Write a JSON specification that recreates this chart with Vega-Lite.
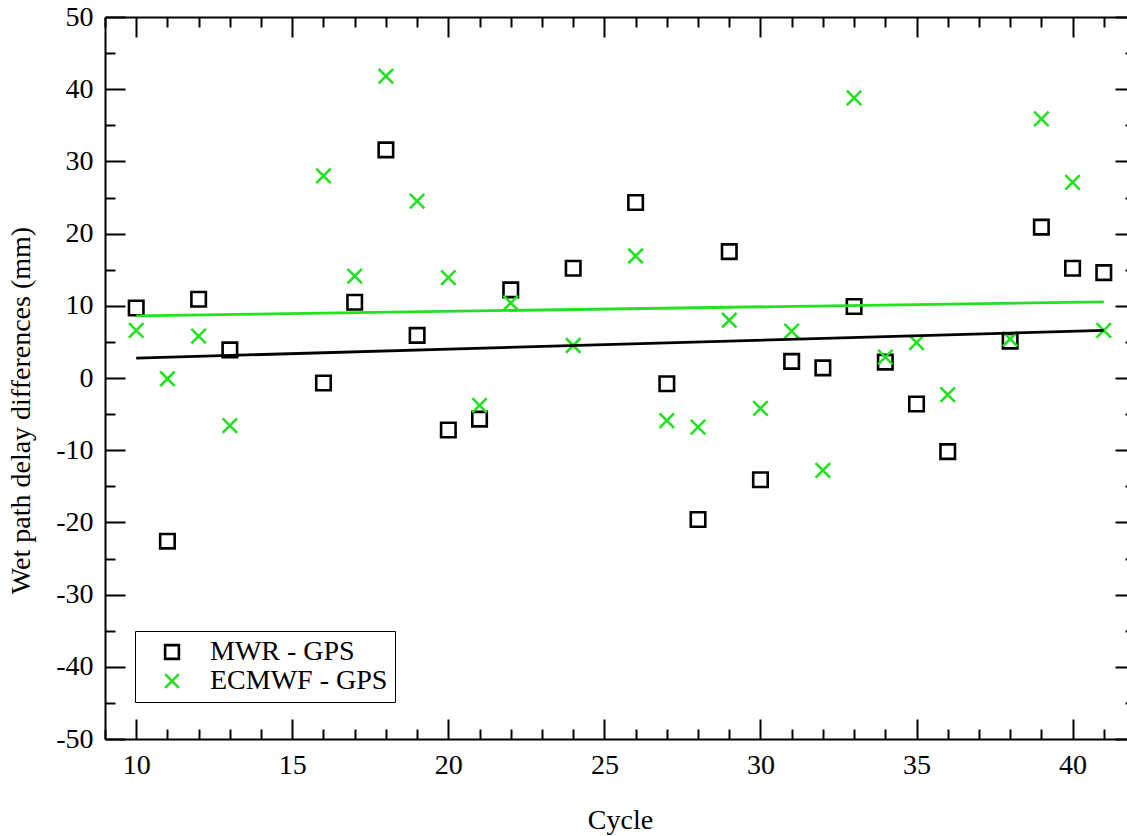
{
  "$schema": "https://vega.github.io/schema/vega-lite/v6.json",
  "autosize": {"type": "none"},
  "padding": {"left": 105, "top": 17, "right": -8, "bottom": 97},
  "width": 1030,
  "height": 722,
  "background": "white",
  "datasets": {
    "pts": [
      {"series": "MWR - GPS", "cycle": 10, "value": 9.7},
      {"series": "MWR - GPS", "cycle": 11, "value": -22.6},
      {"series": "MWR - GPS", "cycle": 12, "value": 10.9},
      {"series": "MWR - GPS", "cycle": 13, "value": 3.9},
      {"series": "MWR - GPS", "cycle": 16, "value": -0.7},
      {"series": "MWR - GPS", "cycle": 17, "value": 10.5},
      {"series": "MWR - GPS", "cycle": 18, "value": 31.6},
      {"series": "MWR - GPS", "cycle": 19, "value": 5.9},
      {"series": "MWR - GPS", "cycle": 20, "value": -7.2},
      {"series": "MWR - GPS", "cycle": 21, "value": -5.7},
      {"series": "MWR - GPS", "cycle": 22, "value": 12.2},
      {"series": "MWR - GPS", "cycle": 24, "value": 15.2},
      {"series": "MWR - GPS", "cycle": 26, "value": 24.3},
      {"series": "MWR - GPS", "cycle": 27, "value": -0.8},
      {"series": "MWR - GPS", "cycle": 28, "value": -19.6},
      {"series": "MWR - GPS", "cycle": 29, "value": 17.5},
      {"series": "MWR - GPS", "cycle": 30, "value": -14.1},
      {"series": "MWR - GPS", "cycle": 31, "value": 2.3},
      {"series": "MWR - GPS", "cycle": 32, "value": 1.4},
      {"series": "MWR - GPS", "cycle": 33, "value": 9.9},
      {"series": "MWR - GPS", "cycle": 34, "value": 2.2},
      {"series": "MWR - GPS", "cycle": 35, "value": -3.6},
      {"series": "MWR - GPS", "cycle": 36, "value": -10.2},
      {"series": "MWR - GPS", "cycle": 38, "value": 5.1},
      {"series": "MWR - GPS", "cycle": 39, "value": 20.9},
      {"series": "MWR - GPS", "cycle": 40, "value": 15.2},
      {"series": "MWR - GPS", "cycle": 41, "value": 14.6},
      {"series": "ECMWF - GPS", "cycle": 10, "value": 6.6},
      {"series": "ECMWF - GPS", "cycle": 11, "value": -0.1},
      {"series": "ECMWF - GPS", "cycle": 12, "value": 5.8},
      {"series": "ECMWF - GPS", "cycle": 13, "value": -6.6},
      {"series": "ECMWF - GPS", "cycle": 16, "value": 28.0},
      {"series": "ECMWF - GPS", "cycle": 17, "value": 14.1},
      {"series": "ECMWF - GPS", "cycle": 18, "value": 41.8},
      {"series": "ECMWF - GPS", "cycle": 19, "value": 24.5},
      {"series": "ECMWF - GPS", "cycle": 20, "value": 13.9},
      {"series": "ECMWF - GPS", "cycle": 21, "value": -3.8},
      {"series": "ECMWF - GPS", "cycle": 22, "value": 10.4},
      {"series": "ECMWF - GPS", "cycle": 24, "value": 4.5},
      {"series": "ECMWF - GPS", "cycle": 26, "value": 16.9},
      {"series": "ECMWF - GPS", "cycle": 27, "value": -5.9},
      {"series": "ECMWF - GPS", "cycle": 28, "value": -6.8},
      {"series": "ECMWF - GPS", "cycle": 29, "value": 8.0},
      {"series": "ECMWF - GPS", "cycle": 30, "value": -4.2},
      {"series": "ECMWF - GPS", "cycle": 31, "value": 6.5},
      {"series": "ECMWF - GPS", "cycle": 32, "value": -12.8},
      {"series": "ECMWF - GPS", "cycle": 33, "value": 38.8},
      {"series": "ECMWF - GPS", "cycle": 34, "value": 2.9},
      {"series": "ECMWF - GPS", "cycle": 35, "value": 4.9},
      {"series": "ECMWF - GPS", "cycle": 36, "value": -2.3},
      {"series": "ECMWF - GPS", "cycle": 38, "value": 5.4},
      {"series": "ECMWF - GPS", "cycle": 39, "value": 35.9},
      {"series": "ECMWF - GPS", "cycle": 40, "value": 27.1},
      {"series": "ECMWF - GPS", "cycle": 41, "value": 6.6}
    ],
    "fits": [
      {"series": "MWR - GPS", "cycle": 10, "value": 2.75},
      {"series": "MWR - GPS", "cycle": 41, "value": 6.6},
      {"series": "ECMWF - GPS", "cycle": 10, "value": 8.6},
      {"series": "ECMWF - GPS", "cycle": 41, "value": 10.55}
    ]
  },
  "layer": [
    {
      "data": {"name": "pts"},
      "mark": {"type": "point", "filled": false, "strokeWidth": 2.6, "size": 210, "opacity": 1},
      "encoding": {
        "x": {
          "field": "cycle", "type": "quantitative",
          "scale": {"domain": [9, 42], "nice": false, "zero": false},
          "axis": {
            "orient": "bottom",
            "title": "Cycle",
            "values": [9,10,11,12,13,14,15,16,17,18,19,20,21,22,23,24,25,26,27,28,29,30,31,32,33,34,35,36,37,38,39,40,41,42],
            "labelExpr": "datum.value % 5 === 0 ? toString(datum.value) : ''",
            "tickSize": -20,
            "tickDash": {"condition": {"test": "datum.value % 5 === 0", "value": []}, "value": [10, 40]},
            "labelPadding": 32,
            "titlePadding": 27
          }
        },
        "y": {
          "field": "value", "type": "quantitative",
          "scale": {"domain": [-50, 50], "nice": false, "zero": false},
          "axis": {
            "orient": "left",
            "title": "Wet path delay differences (mm)",
            "values": [-50,-45,-40,-35,-30,-25,-20,-15,-10,-5,0,5,10,15,20,25,30,35,40,45,50],
            "labelExpr": "datum.value % 10 === 0 ? toString(datum.value) : ''",
            "tickSize": -20,
            "tickDash": {"condition": {"test": "datum.value % 10 === 0", "value": []}, "value": [10, 40]},
            "labelPadding": 32,
            "titlePadding": 20,
            "titleY": 393
          }
        },
        "color": {
          "field": "series", "type": "nominal",
          "scale": {"domain": ["MWR - GPS", "ECMWF - GPS"], "range": ["#000000", "#22e022"]},
          "legend": {
            "title": null,
            "orient": "none",
            "legendX": 30,
            "legendY": 614,
            "strokeColor": "#000000",
            "fillColor": "#ffffff",
            "padding": 7,
            "symbolOffset": 16,
            "labelOffset": 24,
            "rowPadding": 1,
            "labelFont": "Liberation Serif",
            "labelFontSize": 28,
            "labelColor": "#000000",
            "symbolSize": 190,
            "symbolStrokeWidth": 2.6,
            "labelLimit": 400
          }
        },
        "shape": {
          "field": "series", "type": "nominal",
          "scale": {"domain": ["MWR - GPS", "ECMWF - GPS"], "range": ["square", "M-1,-1L1,1M-1,1L1,-1"]},
          "legend": {
            "title": null,
            "orient": "none",
            "legendX": 30,
            "legendY": 614,
            "strokeColor": "#000000",
            "fillColor": "#ffffff",
            "padding": 7,
            "symbolOffset": 16,
            "labelOffset": 24,
            "rowPadding": 1,
            "labelFont": "Liberation Serif",
            "labelFontSize": 28,
            "labelColor": "#000000",
            "symbolSize": 190,
            "symbolStrokeWidth": 2.6,
            "labelLimit": 400
          }
        }
      }
    },
    {
      "data": {"name": "fits"},
      "mark": {"type": "line", "strokeWidth": 2.8},
      "encoding": {
        "x": {
          "field": "cycle", "type": "quantitative",
          "scale": {"domain": [9, 42], "nice": false, "zero": false},
          "axis": {
            "orient": "top",
            "title": null,
            "labels": false,
            "values": [9,10,11,12,13,14,15,16,17,18,19,20,21,22,23,24,25,26,27,28,29,30,31,32,33,34,35,36,37,38,39,40,41,42],
            "tickSize": -20,
            "tickDash": {"condition": {"test": "datum.value % 5 === 0", "value": []}, "value": [10, 40]}
          }
        },
        "y": {
          "field": "value", "type": "quantitative",
          "scale": {"domain": [-50, 50], "nice": false, "zero": false},
          "axis": {
            "orient": "right",
            "title": null,
            "labels": false,
            "values": [-50,-45,-40,-35,-30,-25,-20,-15,-10,-5,0,5,10,15,20,25,30,35,40,45,50],
            "tickSize": -20,
            "tickDash": {"condition": {"test": "datum.value % 10 === 0", "value": []}, "value": [10, 40]}
          }
        },
        "stroke": {
          "field": "series", "type": "nominal",
          "scale": {"domain": ["MWR - GPS", "ECMWF - GPS"], "range": ["#000000", "#22e022"]},
          "legend": null
        },
        "detail": {"field": "series", "type": "nominal"}
      }
    }
  ],
  "resolve": {"axis": {"x": "independent", "y": "independent"}},
  "config": {
    "view": {"stroke": null},
    "font": "Liberation Serif",
    "axis": {
      "grid": false,
      "domainColor": "#000000",
      "domainWidth": 2,
      "tickColor": "#000000",
      "tickWidth": 2,
      "labelFont": "Liberation Serif",
      "labelFontSize": 28,
      "labelColor": "#000000",
      "labelFlush": false,
      "labelOverlap": false,
      "labelBound": false,
      "titleFont": "Liberation Serif",
      "titleFontSize": 28,
      "titleFontWeight": "normal",
      "titleColor": "#000000"
    }
  }
}
